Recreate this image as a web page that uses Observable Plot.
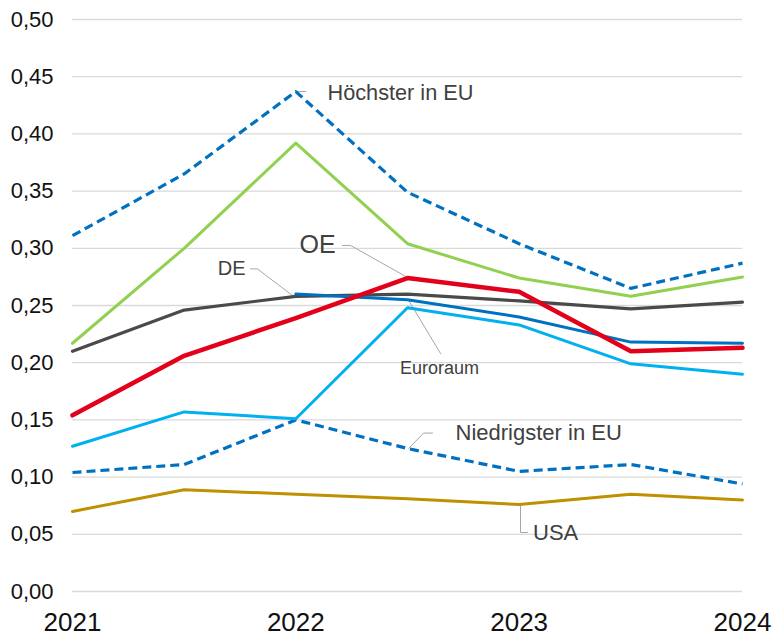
<!DOCTYPE html>
<html><head><meta charset="utf-8">
<script src="https://cdn.jsdelivr.net/npm/d3@7"></script>
<script src="https://cdn.jsdelivr.net/npm/@observablehq/plot@0.6"></script>
<style>
body{margin:0;background:#fff;font-family:"Liberation Sans",Arial,sans-serif}
svg{display:block}
</style>
</head><body><div id="chart"></div>
<script>
// half-year periods
const periods = [2021, 2021.5, 2022, 2022.5, 2023, 2023.5, 2024];
const xTicks = [2021, 2022, 2023, 2024];
const yTicks = [0, 0.05, 0.10, 0.15, 0.20, 0.25, 0.30, 0.35, 0.40, 0.45, 0.50];

const hoechsterEU   = [0.311, 0.365, 0.437, 0.349, 0.304, 0.265, 0.287];
const laendGruen    = [0.217, 0.300, 0.392, 0.304, 0.274, 0.258, 0.275];
const de            = [0.210, 0.246, 0.258, 0.260, 0.254, 0.247, 0.253];
const oe            = [0.154, 0.206, 0.239, 0.274, 0.262, 0.210, 0.213];
const euroraum      = [null, null, 0.260, 0.255, 0.240, 0.218, 0.217];
const laendHellblau = [0.127, 0.157, 0.151, 0.248, 0.233, 0.199, 0.190];
const niedrigsterEU = [0.104, 0.111, 0.150, 0.125, 0.105, 0.111, 0.094];
const usa           = [0.070, 0.089, 0.085, 0.081, 0.076, 0.085, 0.080];

const seriesList = [
  {name: "Höchster in EU", values: hoechsterEU, color: "#0070C0", width: 3.2, dash: "9,5"},
  {name: "Niedrigster in EU", values: niedrigsterEU, color: "#0070C0", width: 3.2, dash: "9,5"},
  {name: "USA", values: usa, color: "#BF9000", width: 3, dash: null},
  {name: "Hellblau", values: laendHellblau, color: "#00B0F0", width: 3, dash: null},
  {name: "Grün", values: laendGruen, color: "#92D050", width: 3, dash: null},
  {name: "DE", values: de, color: "#4A4A4A", width: 3.2, dash: null},
  {name: "Euroraum", values: euroraum, color: "#0070C0", width: 3, dash: null},
  {name: "OE", values: oe, color: "#E3001B", width: 4.5, dash: null}
];

// annotation labels (data units)
const labelTexts  = ["Höchster in EU", "OE", "DE", "Euroraum", "Niedrigster in EU", "USA"];
const labelX      = [2022.142, 2022.178, 2021.775, 2022.643, 2022.715, 2023.062];
const labelY      = [0.436, 0.3025, 0.282, 0.195, 0.139, 0.0516];
const labelAnchor = ["start", "end", "end", "middle", "start", "start"];
const labelSize   = [21.7, 25, 20, 18, 22, 22];

// leader lines (data units)
const leaders = [
  [[2022.01, 0.437], [2022.045, 0.437]],
  [[2022.209, 0.3025], [2022.245, 0.3025], [2022.5, 0.2745]],
  [[2021.797, 0.282], [2021.828, 0.282], [2021.99, 0.258]],
  [[2022.505, 0.2545], [2022.648, 0.208]],
  [[2022.612, 0.1385], [2022.572, 0.1385], [2022.505, 0.125]],
  [[2023.006, 0.0752], [2023.006, 0.0516], [2023.038, 0.0516]]
];

const leaderRows = leaders.flatMap((pts, i) => pts.map(([x, y]) => ({id: i, x, y})));

const lineMarks = seriesList.map(s => {
  const rows = periods.map((p, i) => ({x: p, y: s.values[i]})).filter(d => d.y != null);
  return Plot.line(rows, {
    x: "x", y: "y", stroke: s.color, strokeWidth: s.width,
    strokeDasharray: s.dash || undefined, strokeLinejoin: "round", strokeLinecap: s.dash ? "butt" : "round"
  });
});

const textMarks = labelTexts.map((t, i) => Plot.text([{x: labelX[i], y: labelY[i], t}], {
  x: "x", y: "y", text: "t", textAnchor: labelAnchor[i], fontSize: labelSize[i], fill: "#404040"
}));

const chart = Plot.plot({
  width: 778, height: 637,
  marginTop: 19, marginBottom: 46, marginLeft: 72, marginRight: 36,
  style: {fontFamily: '"Liberation Sans", Arial, sans-serif', background: "#fff", overflow: "visible"},
  x: {domain: [2021, 2024]},
  y: {domain: [0, 0.5]},
  marks: [
    Plot.gridY(yTicks, {stroke: "#D9D9D9", strokeOpacity: 1, strokeWidth: 1.3}),
    Plot.axisY(yTicks, {tickSize: 0, tickPadding: 19, fontSize: 22, fill: "#111",
      tickFormat: d => d.toFixed(2).replace(".", ","), label: null}),
    Plot.axisX(xTicks, {tickSize: 0, tickPadding: 21, fontSize: 26, fill: "#111",
      tickFormat: d => String(d), label: null}),
    Plot.line(leaderRows, {x: "x", y: "y", z: "id", stroke: "#A6A6A6", strokeWidth: 1}),
    ...lineMarks,
    ...textMarks
  ]
});
document.getElementById("chart").appendChild(chart);
</script>
</body></html>
